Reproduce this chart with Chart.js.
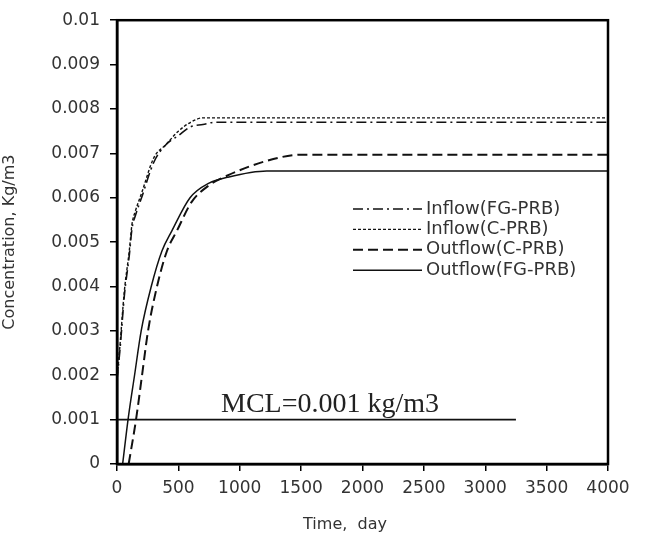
<!DOCTYPE html>
<html>
<head>
<meta charset="UTF-8" />
<title>Concentration vs time</title>
<script src="https://cdn.jsdelivr.net/npm/chart.js"></script>
<style>
  body { margin: 0; background: #fff; }
  #wrap { width: 645px; height: 541px; }
</style>
</head>
<body>
<div id="wrap"><canvas id="chart" width="645" height="541"></canvas></div>
<script>
// values (day, kg/m3)
const inflowFgDays = [0, 25, 60, 100, 122, 150, 200, 300, 400, 500, 600, 700, 800, 900, 4000];
const inflowFgConc = [0.0019, 0.0026, 0.0038, 0.0047, 0.0053, 0.0056, 0.006, 0.0068, 0.0072, 0.0074, 0.0076, 0.00765, 0.0077, 0.0077, 0.0077];

const inflowCDays = [0, 25, 60, 100, 122, 150, 200, 300, 400, 500, 600, 700, 800, 900, 4000];
const inflowCConc = [0.0019, 0.0027, 0.0039, 0.0048, 0.0054, 0.0057, 0.0061, 0.0069, 0.0072, 0.0075, 0.0077, 0.0078, 0.0078, 0.0078, 0.0078];

const outflowCDays = [95, 155, 204, 253, 326, 407, 489, 607, 750, 900, 1220, 1500, 4000];
const outflowCConc = [0, 0.001, 0.002, 0.003, 0.004, 0.0048, 0.00526, 0.0059, 0.00628, 0.0065, 0.00683, 0.00697, 0.00697];

const outflowFgDays = [46, 90, 143, 197, 279, 366, 448, 595, 750, 900, 1220, 4000];
const outflowFgConc = [0, 0.001, 0.002, 0.003, 0.004, 0.0048, 0.00526, 0.006, 0.00633, 0.00646, 0.0066, 0.0066];

const mclDays = [0, 3250];
const mclConc = [0.001, 0.001];

const xTicks = [0, 500, 1000, 1500, 2000, 2500, 3000, 3500, 4000];
const yTickLabels = ['0', '0.001', '0.002', '0.003', '0.004', '0.005', '0.006', '0.007', '0.008', '0.009', '0.01'];

const seriesNames = ['Inflow(FG-PRB)', 'Inflow(C-PRB)', 'Outflow(C-PRB)', 'Outflow(FG-PRB)'];

function pts(xs, ys) {
  return xs.map((x, i) => ({ x: x, y: ys[i] }));
}

const sans = '"DejaVu Sans", sans-serif';
const dashes = [[10, 4, 2, 4], [3, 2], [10, 5], []];
const widths = [1.6, 1.4, 2, 1.5];

const extras = {
  id: 'extras',
  afterDraw(chart) {
    const ctx = chart.ctx;
    const a = chart.chartArea;
    ctx.save();
    // frame
    ctx.strokeStyle = '#000';
    ctx.lineWidth = 2.5;
    ctx.strokeRect(a.left, a.top, a.right - a.left, a.bottom - a.top);

    // MCL label
    ctx.fillStyle = '#222';
    ctx.font = '28px "Liberation Serif", "DejaVu Serif", serif';
    ctx.textBaseline = 'alphabetic';
    ctx.textAlign = 'left';
    ctx.fillText('MCL=0.001 kg/m3', 221, 412);

    // legend
    ctx.font = '18px ' + sans;
    ctx.textBaseline = 'middle';
    seriesNames.forEach((name, i) => {
      const y = 209 + i * 20.4;
      ctx.strokeStyle = '#111';
      ctx.lineWidth = widths[i];
      ctx.setLineDash(dashes[i]);
      ctx.beginPath();
      ctx.moveTo(353, y);
      ctx.lineTo(422, y);
      ctx.stroke();
      ctx.setLineDash([]);
      ctx.fillStyle = '#333';
      ctx.fillText(name, 426, y);
    });

    // x title
    ctx.font = '16px ' + sans;
    ctx.textAlign = 'center';
    ctx.fillStyle = '#333';
    ctx.fillText('Time,  day', 345, 525);
    ctx.restore();
  }
};

new Chart(document.getElementById('chart'), {
  type: 'line',
  data: {
    datasets: [
      { label: seriesNames[0], data: pts(inflowFgDays, inflowFgConc), borderDash: dashes[0], borderWidth: widths[0] },
      { label: seriesNames[1], data: pts(inflowCDays, inflowCConc), borderDash: dashes[1], borderWidth: widths[1] },
      { label: seriesNames[2], data: pts(outflowCDays, outflowCConc), borderDash: dashes[2], borderWidth: widths[2] },
      { label: seriesNames[3], data: pts(outflowFgDays, outflowFgConc), borderDash: dashes[3], borderWidth: widths[3] },
      { label: 'MCL', data: pts(mclDays, mclConc), borderWidth: 1.6, cubicInterpolationMode: 'default', tension: 0 }
    ].map(d => Object.assign({
      borderColor: '#111',
      pointRadius: 0,
      fill: false,
      cubicInterpolationMode: 'monotone'
    }, d))
  },
  options: {
    responsive: false,
    animation: false,
    layout: { padding: { top: 19, right: 37, left: 0, bottom: 0 } },
    plugins: { legend: { display: false }, tooltip: { enabled: false } },
    scales: {
      x: {
        type: 'linear',
        min: 0,
        max: 4000,
        afterBuildTicks: s => { s.ticks = xTicks.map(v => ({ value: v })); },
        afterFit: s => { s.height = 77; },
        grid: { drawOnChartArea: false, drawTicks: true, tickLength: 7, color: '#000', lineWidth: 1.5 },
        border: { color: '#000', width: 2.5 },
        ticks: {
          color: '#333',
          font: { size: 17, family: sans },
          padding: 7,
          maxRotation: 0,
          callback: v => String(v)
        }
      },
      y: {
        min: 0,
        max: 0.01,
        ticks: {
          stepSize: 0.001,
          color: '#333',
          font: { size: 17, family: sans },
          padding: 10,
          callback: (v, i) => yTickLabels[i]
        },
        afterFit: s => { s.width = 117; },
        grid: { drawOnChartArea: false, drawTicks: true, tickLength: 7, color: '#000', lineWidth: 1.5 },
        border: { color: '#000', width: 2.5 },
        title: {
          display: true,
          text: 'Concentration, Kg/m3',
          color: '#333',
          font: { size: 16, family: sans },
          padding: { top: 0, bottom: 0 }
        }
      }
    }
  },
  plugins: [extras]
});
</script>
</body>
</html>
